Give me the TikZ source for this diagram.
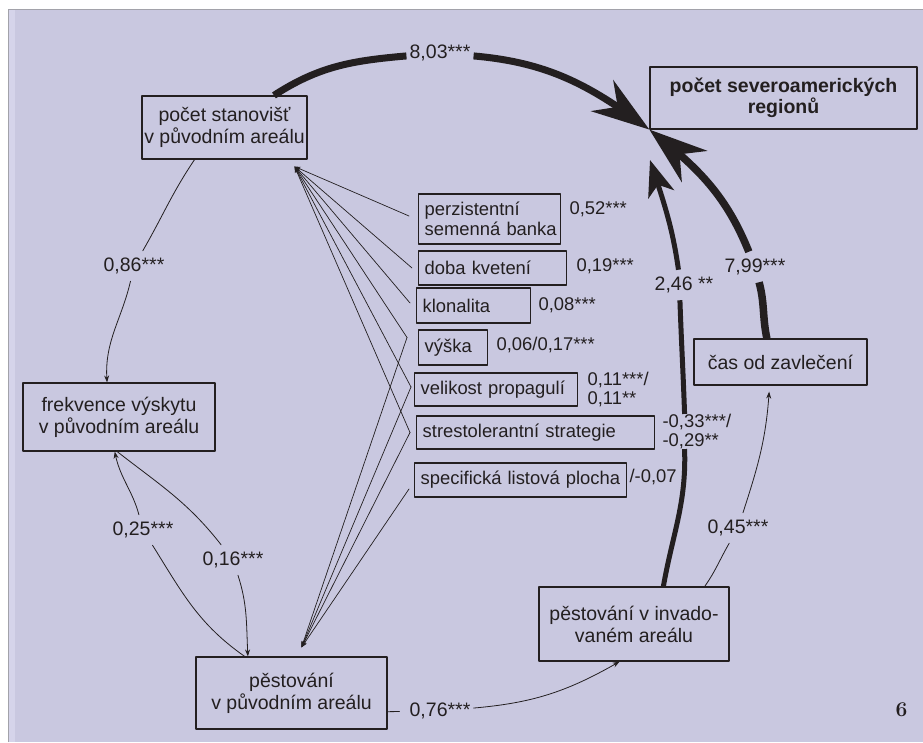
\documentclass[tikz,border=0pt]{standalone}
\usepackage{fontspec}
\setsansfont{Liberation Sans}
\usepackage{tikz}
\usetikzlibrary{arrows.meta, bending, calc, positioning}
\definecolor{sv-bg}{HTML}{C9C8E0}
\definecolor{sv-strip}{HTML}{D5D4EA}
\definecolor{sv-frame}{HTML}{A2A2AA}
\definecolor{sv-ink}{HTML}{231F20}

\begin{document}
\begin{tikzpicture}[x=1pt, y=1pt, >={Stealth[length=7pt, width=5pt]},
  line cap=round, line join=round, text=sv-ink,
  font=\sffamily\fontsize{19.5}{22}\selectfont,
  box/.style={draw=sv-ink, line width=1.2pt, align=center, inner sep=0pt},
  trait/.style={draw=sv-ink, line width=1.4pt, anchor=west, align=left,
    inner xsep=6pt, inner ysep=0pt, font=\sffamily\fontsize{18.4}{19.5}\selectfont},
  val/.style={inner sep=0pt, align=left, font=\sffamily\fontsize{18.4}{19}\selectfont},
  lab/.style={inner xsep=3pt, inner ysep=7pt},
  thin/.style={draw=sv-ink, line width=0.8pt},
  trline/.style={draw=sv-ink, line width=0.7pt},
  fat/.style={draw=sv-ink, line cap=butt, line width=#1},
  fat/.default=7pt]
  % pozadi
  \useasboundingbox (0,0) rectangle (923,742);
  \fill[white] (0,0) rectangle (923,742);
  \fill[sv-bg] (9,0) rectangle (923,732);
  \fill[sv-strip] (9,0) rectangle (15,732);
  \draw[sv-frame, line width=1.2pt, line cap=butt] (8.6,0) -- (8.6,732.6) -- (923,732.6);

  % hlavni promenne
  \node[box, minimum width=165pt, minimum height=63pt] (stan) at (224.5,614.5) {počet stanovišť\\v původním areálu};
  \node[box, minimum width=267pt, minimum height=62pt,
    font=\sffamily\bfseries\fontsize{19.5}{20.5}\selectfont] (reg) at (783.5,644) {počet severoamerických\\regionů};
  \node[box, minimum width=192pt, minimum height=68pt] (frek) at (119,325) {frekvence výskytu\\v původním areálu};
  \node[box, minimum width=191pt, minimum height=72pt] (pest) at (291.5,49) {pěstování\\v původním areálu};
  \node[box, minimum width=190pt, minimum height=74pt] (inv) at (634,118) {pěstování v invado-\\vaném areálu};
  \node[box, minimum width=173pt, minimum height=46pt] (cas) at (780.5,380) {čas od zavlečení};

  % vlastnosti druhu
  \node[trait, text width=130pt, minimum height=50pt] (perz) at (418,523) {perzistentní\\semenná~banka};
  \node[trait, text width=136pt, minimum height=34pt] (doba) at (418,474) {doba~kvetení};
  \node[trait, text width=102pt, minimum height=35pt] (klon) at (416,436.5) {klonalita};
  \node[trait, text width=57pt, minimum height=35pt] (vys) at (418,394.5) {výška};
  \node[trait, text width=151pt, minimum height=33pt] (vel) at (414,352.5) {velikost~propagulí};
  \node[trait, text width=226pt, minimum height=33pt] (str) at (416,309.5) {strestolerantní~strategie};
  \node[trait, text width=200pt, minimum height=34pt] (spec) at (414,262) {specifická~listová~plocha};

  \node[val, right=8pt of perz, yshift=10pt] (v-perz) {0,52***};
  \node[val, right=9pt of doba, yshift=2pt] (v-doba) {0,19***};
  \node[val, right=7pt of klon] (v-klon) {0,08***};
  \node[val, right=8pt of vys, yshift=2.5pt] (v-vys) {0,06/0,17***};
  \node[val, right=9pt of vel] (v-vel) {0,11***/\\0,11**};
  \node[val, right=7pt of str, yshift=1pt] (v-str) {-0,33***/\\-0,29**};
  \node[val, right=2pt of spec, yshift=3pt] (v-spec) {/-0,07};

  % koeficienty na sipkach
  \node[lab] (l803) at (440,689) {8,03***};
  \node[lab] (l799) at (755,475) {7,99***};
  \node[lab] (l246) at (684,457) {2,46 **};
  \node[lab] (l045) at (738,214) {0,45***};
  \node[lab] (l076) at (440,31) {0,76***};
  \node[lab] (l086) at (134,476) {0,86***};
  \node[lab] (l025) at (143,212) {0,25***};
  \node[lab] (l016) at (233,182) {0,16***};
  \node[font=\rmfamily\bfseries\fontsize{21}{21}\selectfont] (fignum) at (901.5,32) {6};

  \coordinate (hubstan) at ($(stan.south east)+(-13,-7)$);
  \coordinate (hubpest) at ($(pest.north)+(10,9)$);
  \coordinate (tip246) at (650,582);

  % tlusta sipky k poctu regionu
  \draw[fat, -{Stealth[length=58pt, width=38pt, inset=19pt]}] (stan.33) to[out=33, in=185] (l803)
    to[out=-5, in=143] (reg.south west);
  \draw[fat=7.5pt, -{Stealth[length=58pt, width=40pt, inset=19pt]}] (cas.120) to[out=102, in=-75] (l799)
    to[out=112, in=-38] (reg.south west);
  \draw[fat=5pt, -{Stealth[length=36pt, width=27pt, inset=10pt]}] (inv.52) to[out=80, in=-88] (v-str.-125)
    (v-str.125) to[out=92, in=-88] (l246.-105)
    (l246.110) to[out=98, in=-72] (tip246);

  % tenke sipky
  \draw[thin, ->, shorten >=6pt] (inv.28) to[out=55, in=-120] (l045) to[out=72, in=-93] (cas.-115);
  \draw[thin, shorten >=7pt] (pest.-11) -- (l076);
  \draw[thin, ->] (l076) to[out=5, in=-150] (inv.-111);
  \draw[thin, ->] (stan.-133) to[out=-124, in=60] (l086) to[out=-103, in=95] (frek.109);
  \draw[thin, ->] (pest.142) to[out=145, in=-58] (l025) to[out=105, in=-80] (frek.-97);
  \draw[thin, ->] (frek.-93) to[out=-38, in=128] (l016) to[out=-72, in=93] (pest.140);

  % vlastnosti -> stanoviste a pestovani
  \foreach \t/\dx/\dy in {perz/-9/3, doba/-6/0, klon/-6/2.5, vys/-11/10, vel/-3/2.5, str/-6/0}
    \draw[trline, -{Stealth[length=6pt, width=4.5pt]}] ($(\t.west)+(\dx,\dy)$) -- (hubstan);
  \foreach \t/\dx/\dy in {vys/-11/10, vel/-3/2.5, str/-6/0, spec/-5/-9}
    \draw[trline, -{Stealth[length=6pt, width=4.5pt]}] ($(\t.west)+(\dx,\dy)$) -- (hubpest);
\end{tikzpicture}
\end{document}
